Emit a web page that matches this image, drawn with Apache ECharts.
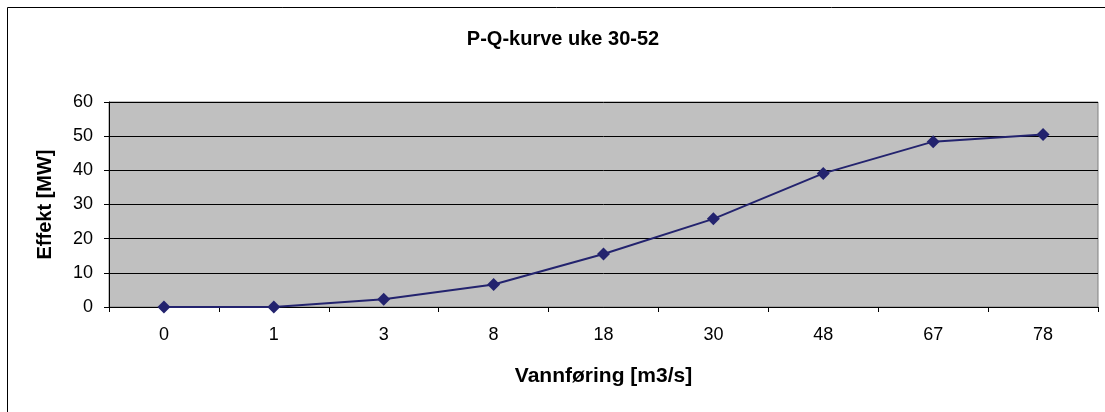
<!DOCTYPE html>
<html>
<head>
<meta charset="utf-8">
<script src="https://cdn.jsdelivr.net/npm/echarts@6/dist/echarts.min.js"></script>
<style>
  html, body { margin: 0; padding: 0; background: #fff; }
  #chart { width: 1105px; height: 412px; }
</style>
</head>
<body>
<div id="chart"></div>
<script>
// vannføring (kategorier) og effekt
const flows = ['0', '1', '3', '8', '18', '30', '48', '67', '78']
const power = [0, 0, 2.25, 6.6, 15.5, 25.8, 39.1, 48.4, 50.5]

const font = 'Liberation Sans, Arial, sans-serif'
const chart = echarts.init(document.getElementById('chart'))

chart.setOption({
  animation: false,
  backgroundColor: '#fff',
  title: {
    text: 'P-Q-kurve uke 30-52',
    left: 558,
    top: 24,
    textAlign: 'center',
    textStyle: { fontFamily: font, fontSize: 20, fontWeight: 'bold', color: '#000' }
  },
  graphic: [{
    type: 'rect',
    shape: { x: 7.5, y: 7.5, width: 1110, height: 420 },
    style: { fill: 'none', stroke: '#000', lineWidth: 1 },
    silent: true
  }],
  grid: {
    left: 109,
    right: 7,
    top: 102,
    bottom: 105,
    show: true,
    backgroundColor: '#c0c0c0',
    borderColor: '#808080',
    borderWidth: 1
  },
  xAxis: {
    type: 'category',
    data: flows,
    boundaryGap: true,
    name: 'Vannføring [m3/s]',
    nameLocation: 'middle',
    nameGap: 59,
    nameTextStyle: { fontFamily: font, fontSize: 21, fontWeight: 'bold', color: '#000' },
    axisLine: { lineStyle: { color: '#000', width: 1 } },
    axisTick: { show: true, length: 5, lineStyle: { color: '#000' } },
    axisLabel: { margin: 19, fontFamily: font, fontSize: 18, color: '#000' },
    splitLine: { show: false }
  },
  yAxis: {
    type: 'value',
    min: 0,
    max: 60,
    interval: 10,
    name: 'Effekt [MW]',
    nameLocation: 'middle',
    nameGap: 54,
    nameRotate: 90,
    nameTextStyle: { fontFamily: font, fontSize: 20, fontWeight: 'bold', color: '#000' },
    axisLine: { show: true, lineStyle: { color: '#000', width: 1 } },
    axisTick: { show: true, length: 5, lineStyle: { color: '#000' } },
    axisLabel: { margin: 16, fontFamily: font, fontSize: 18, color: '#000' },
    splitLine: { show: true, lineStyle: { color: '#000', width: 1 } }
  },
  series: [{
    type: 'line',
    data: power,
    symbol: 'diamond',
    symbolSize: 13,
    itemStyle: { color: '#23236e' },
    lineStyle: { color: '#23236e', width: 2 }
  }]
})
</script>
</body>
</html>
